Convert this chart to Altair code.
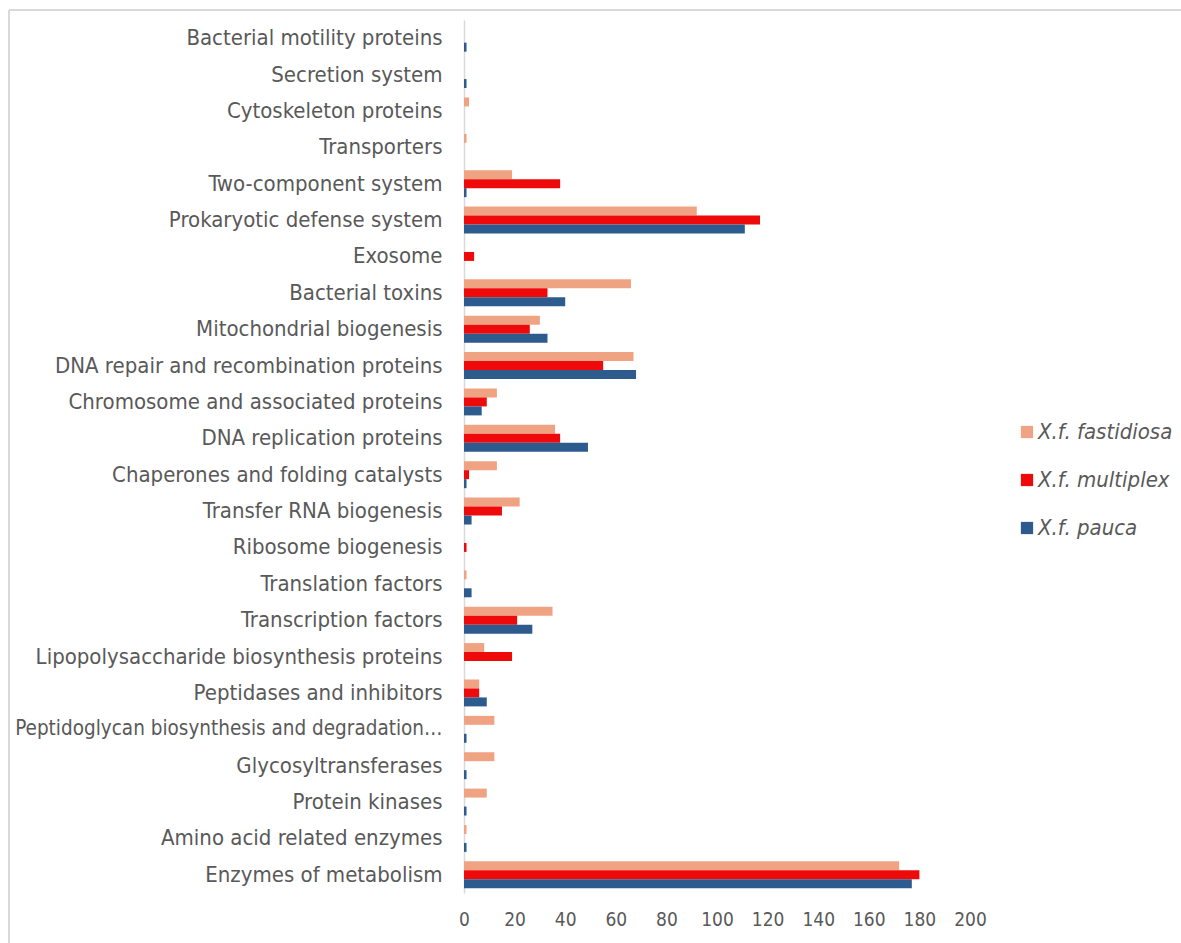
import altair as alt
import pandas as pd

categories = [
    "Bacterial motility proteins",
    "Secretion system",
    "Cytoskeleton proteins",
    "Transporters",
    "Two-component system",
    "Prokaryotic defense system",
    "Exosome",
    "Bacterial toxins",
    "Mitochondrial biogenesis",
    "DNA repair and recombination proteins",
    "Chromosome and associated proteins",
    "DNA replication proteins",
    "Chaperones and folding catalysts",
    "Transfer RNA biogenesis",
    "Ribosome biogenesis",
    "Translation factors",
    "Transcription factors",
    "Lipopolysaccharide biosynthesis proteins",
    "Peptidases and inhibitors",
    "Peptidoglycan biosynthesis and degradation…",
    "Glycosyltransferases",
    "Protein kinases",
    "Amino acid related enzymes",
    "Enzymes of metabolism",
]

fastidiosa = [0, 0, 2, 1, 19, 92, 0, 66, 30, 67, 13, 36, 13, 22, 0, 1, 35, 8, 6, 12, 12, 9, 1, 172]
multiplex = [0, 0, 0, 0, 38, 117, 4, 33, 26, 55, 9, 38, 2, 15, 1, 0, 21, 19, 6, 0, 0, 0, 0, 180]
pauca = [1, 1, 0, 0, 1, 111, 0, 40, 33, 68, 7, 49, 1, 3, 0, 3, 27, 0, 9, 1, 1, 1, 1, 177]

series_names = ["X.f. fastidiosa", "X.f. multiplex", "X.f. pauca"]
series_colors = ["#F0A383", "#EE0A0A", "#2E5B8E"]
x_ticks = [0, 20, 40, 60, 80, 100, 120, 140, 160, 180, 200]

rows = []
for name, vals in zip(series_names, [fastidiosa, multiplex, pauca]):
    for c, v in zip(categories, vals):
        rows.append({"category": c, "series": name, "value": v})
df = pd.DataFrame(rows)

FONT = "Liberation Sans Narrow, Arial Narrow, DejaVu Sans Condensed, sans-serif"
GRAY = "#595959"

bars = alt.Chart(df).mark_bar().encode(
    y=alt.Y(
        "category:N",
        sort=categories,
        title=None,
        scale=alt.Scale(paddingInner=0.26, paddingOuter=0.13),
        axis=alt.Axis(
            ticks=False,
            domain=True,
            domainColor="#D9D9D9",
            domainWidth=1.5,
            labelFont=FONT,
            labelFontSize=alt.expr("indexof(datum.value, 'Peptidoglycan') == 0 ? 20.5 : 22"),
            labelColor=GRAY,
            labelPadding=22,
            labelLimit=600,
            labelOverlap=False,
            grid=False,
        ),
    ),
    yOffset=alt.YOffset("series:N", sort=series_names, scale=alt.Scale(paddingInner=0, paddingOuter=0)),
    x=alt.X(
        "value:Q",
        title=None,
        scale=alt.Scale(domain=[0, 200], nice=False),
        axis=alt.Axis(
            values=x_ticks,
            grid=False,
            domain=False,
            ticks=False,
            labelFont=FONT,
            labelFontSize=19,
            labelColor=GRAY,
            labelPadding=17,
            labelOverlap=False,
            labelFlush=False,
        ),
    ),
    color=alt.Color(
        "series:N",
        sort=series_names,
        scale=alt.Scale(domain=series_names, range=series_colors),
        legend=alt.Legend(
            title=None,
            orient="none",
            legendX=552,
            legendY=401,
            symbolType="square",
            symbolSize=150,
            symbolStrokeWidth=0,
            labelFont=FONT,
            labelFontSize=22,
            labelFontStyle="italic",
            labelColor=GRAY,
            labelOffset=0,
            rowPadding=26,
        ),
    ),
)

# light chart-area border (decorative), top and left edges
frame_src = pd.DataFrame({"a": [0]})
top_edge = alt.Chart(frame_src).mark_rule(color="#D9D9D9", strokeWidth=2).encode(
    x=alt.value(-455), x2=alt.value(760), y=alt.value(-10)
)
left_edge = alt.Chart(frame_src).mark_rule(color="#D9D9D9", strokeWidth=2).encode(
    x=alt.value(-455), y=alt.value(-10), y2=alt.value(960)
)

chart = alt.layer(top_edge, left_edge, bars).properties(
    width=506,
    height=873,
    background="white",
    autosize=alt.AutoSizeParams(type="none"),
    padding={"left": 464, "top": 20, "right": 211, "bottom": 50},
).configure_view(strokeOpacity=0, strokeWidth=0)

chart.save("out.html", embed_options={"renderer": "svg", "actions": False})
